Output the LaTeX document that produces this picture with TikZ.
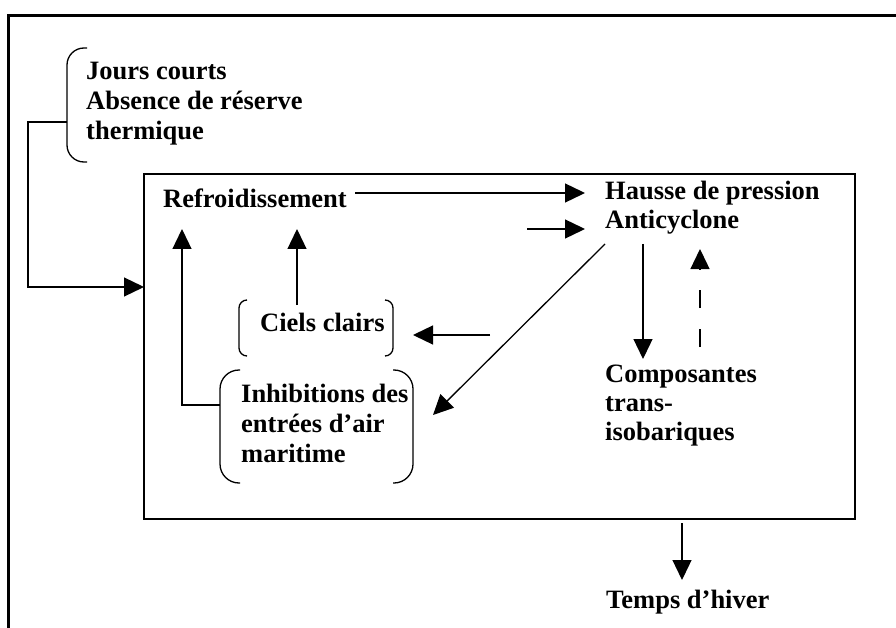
\documentclass[tikz,border=0pt]{standalone}
\usepackage{fontspec}
\setmainfont{Liberation Serif}
\usetikzlibrary{arrows.meta}
\begin{document}
\begin{tikzpicture}[x=1pt,y=-1pt,
  lbl/.style={anchor=base west,inner sep=0pt,font=\fontsize{26.5}{30}\selectfont\bfseries},
  arr/.style={line width=1.3pt,-{Triangle[length=20pt,width=19pt]}},
  brk/.style={line width=1.3pt},
  frame/.style={line width=2.6pt},
  inbox/.style={line width=2pt}]
\useasboundingbox (0,0) rectangle (896,628);
% outer frame
\draw[frame] (8.5,628) -- (8.5,15.5) -- (896,15.5);
% inner box
\draw[inbox] (144,174) rectangle (855,519);
% texts
\node[lbl] (jc1) at (86,80) {Jours courts};
\node[lbl] (jc2) at (86,110) {Absence de réserve};
\node[lbl] (jc3) at (86,140) {thermique};
\node[lbl] (ref) at (163,208) {Refroidissement};
\node[lbl] (hp1) at (605,200) {Hausse de pression};
\node[lbl] (hp2) at (605,229) {Anticyclone};
\node[lbl] (cp1) at (605,382) {Composantes};
\node[lbl] (cp2) at (605,411) {trans-};
\node[lbl] (cp3) at (605,440) {isobariques};
\node[lbl] (cc) at (260,331) {Ciels clairs};
\node[lbl] (in1) at (241,402) {Inhibitions des};
\node[lbl] (in2) at (241,432) {entrées d’air};
\node[lbl] (in3) at (241,462) {maritime};
\node[lbl] (th) at (606,608) {Temps d’hiver};
% brackets
\draw[brk,rounded corners=17pt] (87,48) -- (67,48) -- (67,162) -- (87,162);
\draw[brk,rounded corners=8pt] (247,300) -- (239,300) -- (239,356) -- (247,356);
\draw[brk,rounded corners=8pt] (385,300) -- (393,300) -- (393,356) -- (385,356);
\draw[brk,rounded corners=19pt] (240,370) -- (220,370) -- (220,483) -- (240,483);
\draw[brk,rounded corners=19pt] (393,370) -- (413,370) -- (413,483) -- (393,483);
% coordinates
\coordinate (jcL) at (67,122);
\coordinate (boxL) at (144,287);
\coordinate (refR) at (355,193);
\coordinate (hpL) at (585,193);
\coordinate (a2s) at (527,229);
\coordinate (a2e) at (585,229);
\coordinate (ccT) at (297,305);
\coordinate (refB2) at (297,229);
\coordinate (inL) at (220,405);
\coordinate (refB1) at (182,229);
\coordinate (cca) at (490,335);
\coordinate (ccR) at (413,335);
\coordinate (antB) at (605,244);
\coordinate (inR) at (433,415);
\coordinate (antD) at (643,244);
\coordinate (cpT) at (643,359);
\coordinate (cpU) at (700,347);
\coordinate (antU) at (700,249);
\coordinate (boxB) at (682,523);
\coordinate (thT) at (682,580);
% connectors
\draw[arr] (jcL) -- (28,122) -- (28,287) -- (boxL);
\draw[arr] (refR) -- (hpL);
\draw[arr] (a2s) -- (a2e);
\draw[arr] (ccT) -- (refB2);
\draw[arr] (inL) -- (182,405) -- (refB1);
\draw[arr] (cca) -- (ccR);
\draw[arr] (antB) -- (inR);
\draw[arr] (antD) -- (cpT);
\draw[arr,dash pattern=on 18pt off 21pt] (cpU) -- (antU);
\draw[arr] (boxB) -- (thT);
\end{tikzpicture}
\end{document}
